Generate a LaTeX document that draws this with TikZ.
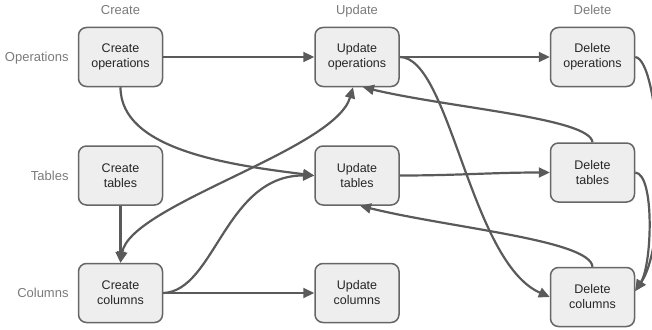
\documentclass[tikz,border=0pt]{standalone}
\usepackage{fontspec}
\setmainfont{Liberation Sans}
\usetikzlibrary{positioning,arrows.meta}
\definecolor{boxfill}{HTML}{EEEEEE}
\definecolor{boxline}{HTML}{666666}
\definecolor{arrowline}{HTML}{5A5A5A}
\definecolor{labeltext}{HTML}{7A7A7A}

\begin{document}
\begin{tikzpicture}[x=1pt,y=-1pt]
        \tikzset{Box/.style={%
                shape=rectangle,%
                rounded corners=8pt,%
                draw=boxline,%
                fill=boxfill,%
                line width=1.5pt,%
                minimum width=84pt,%
                minimum height=59pt,%
                align=center,%
                text=black!85,%
                font=\fontsize{12.5}{15}\selectfont,%
            }}
        \tikzset{Label/.style={%
                text=labeltext,%
                inner sep=0pt,%
                text depth=0pt,%
                font=\fontsize{13}{15}\selectfont,%
            }}
        \tikzset{Arrow/.style={%
                draw=arrowline,%
                line width=2.2pt,%
                -{Triangle[length=11pt,width=10pt]},%
            }}

        \useasboundingbox (0,0) rectangle (652,329);
        \clip (0,0) rectangle (652,329);

        \node[Box] (cops) at (120.5,57) {Create\\operations};
        \node[Box, right=151pt of cops] (uops) {Update\\operations};
        \node[Box, right=150pt of uops] (dops) {Delete\\operations};
        \node[Box, below=58pt of cops] (ctab) {Create\\tables};
        \node[Box, below=58pt of uops] (utab) {Update\\tables};
        \node[Box, right=150pt of utab, yshift=3pt] (dtab) {Delete\\tables};
        \node[Box, below=57pt of ctab] (ccol) {Create\\columns};
        \node[Box, below=57pt of utab] (ucol) {Update\\columns};
        \node[Box, right=150pt of ucol, yshift=-4pt] (dcol) {Delete\\columns};

        % column and row headings
        \node[Label, above=12pt of cops] (hcreate) {Create};
        \node[Label, above=12pt of uops] (hupdate) {Update};
        \node[Label, above=12pt of dops] (hdelete) {Delete};
        \node[Label, left=9pt of cops] (lops) {Operations};
        \node[Label, left=9pt of ctab] (ltab) {Tables};
        \node[Label, left=9pt of ccol] (lcol) {Columns};

        \path (cops.east) edge[Arrow] (uops.west);
        \path (uops.east) edge[Arrow] (dops.west);
        \path (ctab.south) edge[Arrow] (ccol.north);
        \path (ccol.east) edge[Arrow] (ucol.west);
        \path (utab.east) edge[Arrow, out=0, in=180] (dtab.west);

        \draw[Arrow] (cops.south) .. controls (120.5,150) and (230,165) .. (utab.west);
        \draw[Arrow] (ccol.east) .. controls (215,291) and (225,175) .. (utab.west);
        \draw[Arrow, {Triangle[length=11pt,width=10pt]}-{Triangle[length=11pt,width=10pt]}]
            (ccol.north) .. controls (130,205) and (335,150) .. ([xshift=-4pt]uops.south);
        \draw[Arrow] (uops.east) .. controls (450,57) and (470,262) .. (dcol.west);
        \draw[Arrow] (dtab.north) .. controls (590,118) and (450,108) .. ([xshift=6pt]uops.south);
        \draw[Arrow] (dcol.north) .. controls (590,240) and (450,228) .. ([xshift=3pt]utab.south);
        \draw[Arrow] (dtab.east) .. controls (655,174) and (652,265) .. ([yshift=6pt]dcol.east);
        \draw[Arrow] (dops.east) .. controls (660,60) and (670,240) .. ([yshift=6pt]dcol.east);
\end{tikzpicture}
\end{document}
